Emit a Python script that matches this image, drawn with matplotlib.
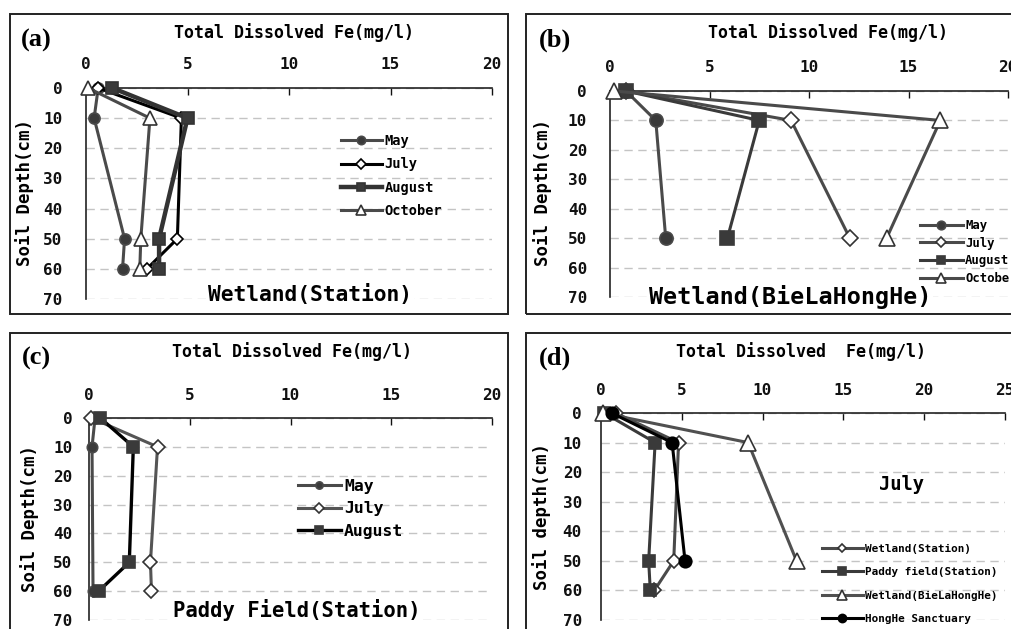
import matplotlib
matplotlib.use('Agg')
import matplotlib.pyplot as plt
from matplotlib.patches import Rectangle

# ---------------- data ----------------
depth_ticks = [0, 10, 20, 30, 40, 50, 60, 70]
fe_ticks_20 = [0, 5, 10, 15, 20]
fe_ticks_25 = [0, 5, 10, 15, 20, 25]

# (a) Wetland (Station)
a_depth = [0, 10, 50, 60]
a_may = [0.6, 0.4, 1.9, 1.8]
a_july = [0.6, 4.7, 4.5, 3.0]
a_august = [1.3, 5.0, 3.6, 3.6]
a_october = [0.1, 3.15, 2.7, 2.65]
a_labels = ["May", "July", "August", "October"]

# (b) Wetland (BieLaHongHe)
b_depth = [0, 10, 50]
b_may = [0.8, 2.3, 2.8]
b_july = [0.8, 9.1, 12.05]
b_august = [0.8, 7.5, 5.9]
b_october = [0.2, 16.6, 13.9]
b_labels = ["May", "July", "August", "October"]

# (c) Paddy Field (Station)
c_depth_may = [0, 10, 60]
c_may = [0.3, 0.15, 0.2]
c_depth = [0, 10, 50, 60]
c_july = [0.12, 3.4, 3.05, 3.1]
c_august = [0.56, 2.2, 2.0, 0.48]
c_labels = ["May", "July", "August"]

# (d) July comparison
d_depth4 = [0, 10, 50, 60]
d_depth3 = [0, 10, 50]
d_wet_station = [0.9, 4.8, 4.5, 3.3]
d_paddy = [0.2, 3.35, 2.95, 3.05]
d_bielahonghe = [0.1, 9.1, 12.1]
d_honghe = [0.65, 4.4, 5.2]
d_labels = ["Wetland(Station)", "Paddy field(Station)", "Wetland(BieLaHongHe)", "HongHe Sanctuary"]

# ---------------- layout ----------------
W, H = 1011, 629
fig = plt.figure(figsize=(W / 100, H / 100), dpi=100)
fig.patch.set_facecolor('white')

MONO = 'DejaVu Sans Mono'
SERIF = 'Liberation Serif'


def fx(px):
    return px / W


def fy(py):
    return 1 - py / H


def box(x0, y0, x1, y1):
    fig.add_artist(Rectangle((fx(x0), fy(y1)), fx(x1 - x0), (y1 - y0) / H,
                             transform=fig.transFigure, fill=False,
                             lw=1.4, ec='#222222'))


def make_ax(x0, x1, ytop, ybot, xmax, xticks, xpad, ypad):
    ax = fig.add_axes([fx(x0), fy(ybot), fx(x1 - x0), (ybot - ytop) / H])
    ax.set_xlim(0, xmax)
    ax.set_ylim(70, 0)
    ax.set_xticks(xticks)
    ax.set_yticks(depth_ticks)
    ax.xaxis.tick_top()
    ax.tick_params(axis='x', direction='in', length=5, width=1, pad=xpad,
                   labelsize=11.5, colors='#111111')
    ax.tick_params(axis='y', length=0, pad=ypad, labelsize=11.5, colors='#111111')
    for lab in ax.get_xticklabels() + ax.get_yticklabels():
        lab.set_fontweight('bold')
        lab.set_fontfamily(MONO)
    for s in ['right', 'bottom']:
        ax.spines[s].set_visible(False)
    for s in ['top', 'left']:
        ax.spines[s].set_color('#222222')
        ax.spines[s].set_linewidth(1.2)
    ax.yaxis.grid(True, color='#c4c4c4', lw=1, linestyle=(0, (6, 4)))
    ax.set_axisbelow(True)
    ax.patch.set_alpha(0)
    return ax


def series(ax, x, y, marker, face, lc, lw=2.2, ms=8, ec=None, label=None, z=3):
    ax.plot(x, y, color=lc, lw=lw, marker=marker, ms=ms, mfc=face,
            mec=ec if ec else lc, mew=1.2, label=label, clip_on=False, zorder=z)


def legend(ax, xpx, ycpx, fs, hl, sp, ms_scale=0.75):
    leg = ax.legend(loc='center left', bbox_to_anchor=(fx(xpx), fy(ycpx)),
                    bbox_transform=fig.transFigure, frameon=False,
                    borderpad=0, borderaxespad=0, handlelength=hl, handletextpad=0.2,
                    labelspacing=sp, markerscale=ms_scale,
                    prop={'family': MONO, 'weight': 'bold', 'size': fs})
    return leg


def subtitle(xpx, ypx, s, size):
    fig.text(fx(xpx), fy(ypx), s, family=MONO, weight='bold', size=size,
             ha='center', va='center',
             bbox=dict(facecolor='white', edgecolor='none', pad=1.5))


DK = '#3a3a3a'
GR = '#4a4a4a'

# panel boxes
box(10, 14, 508, 314)
box(526, 14, 1030, 314)
box(10, 333, 508, 650)
box(526, 333, 1030, 650)

# ---------- (a) ----------
ax = make_ax(86, 492, 88, 299, 20, fe_ticks_20, 11.5, 17)
series(ax, a_may, a_depth, 'o', DK, GR, ms=8, label=a_labels[0])
series(ax, a_july, a_depth, 'D', 'white', '#000000', ms=6.5, label=a_labels[1])
series(ax, a_august, a_depth, 's', DK, '#333333', lw=3.2, ms=8.5, label=a_labels[2])
series(ax, a_october, a_depth, '^', 'white', GR, ms=9.5, ec='#333333', label=a_labels[3])
legend(ax, 341, 176, 9.8, 3.0, 0.68)
fig.text(fx(36), fy(40), '(a)', family=SERIF, weight='bold', size=19, ha='center', va='center')
fig.text(fx(294), fy(33), 'Total Dissolved Fe(mg/l)', family=MONO, weight='bold', size=12, ha='center', va='center')
fig.text(fx(25), fy(193), 'Soil Depth(cm)', family=MONO, weight='bold', size=12.5, ha='center', va='center', rotation=90)
subtitle(310, 295, 'Wetland(Station)', 15.3)

# ---------- (b) ----------
ax = make_ax(610, 1008, 91, 297, 20, fe_ticks_20, 11.5, 16.5)
series(ax, b_may, b_depth, 'o', DK, GR, ms=9.5, label=b_labels[0])
series(ax, b_july, b_depth, 'D', 'white', GR, ms=8, ec='#333333', label=b_labels[1])
series(ax, b_august, b_depth, 's', DK, DK, ms=9.5, label=b_labels[2])
series(ax, b_october, b_depth, '^', 'white', GR, ms=11, ec='#333333', label=b_labels[3])
legend(ax, 920, 252, 8.8, 3.5, 0.38, ms_scale=0.65)
fig.text(fx(555), fy(40), '(b)', family=SERIF, weight='bold', size=19, ha='center', va='center')
fig.text(fx(828), fy(33), 'Total Dissolved Fe(mg/l)', family=MONO, weight='bold', size=12, ha='center', va='center')
fig.text(fx(543), fy(193), 'Soil Depth(cm)', family=MONO, weight='bold', size=12.5, ha='center', va='center', rotation=90)
subtitle(790, 297, 'Wetland(BieLaHongHe)', 16.8)

# ---------- (c) ----------
ax = make_ax(89, 492, 418, 620, 20, fe_ticks_20, 11, 12)
series(ax, c_may, c_depth_may, 'o', DK, GR, ms=7.5, label=c_labels[0])
series(ax, c_july, c_depth, 'D', 'white', '#555555', ms=7, ec='#333333', label=c_labels[1])
series(ax, c_august, c_depth, 's', DK, '#000000', lw=2.4, ms=9, ec=DK, label=c_labels[2])
legend(ax, 298, 509, 11.8, 2.6, 0.45, ms_scale=0.7)
fig.text(fx(36), fy(358), '(c)', family=SERIF, weight='bold', size=19, ha='center', va='center')
fig.text(fx(292), fy(352), 'Total Dissolved Fe(mg/l)', family=MONO, weight='bold', size=12, ha='center', va='center')
fig.text(fx(30), fy(519), 'Soil Depth(cm)', family=MONO, weight='bold', size=12.5, ha='center', va='center', rotation=90)
subtitle(297, 610, 'Paddy Field(Station)', 14.8)

# ---------- (d) ----------
ax = make_ax(601, 1005, 413, 620, 25, fe_ticks_25, 11, 13.7)
series(ax, d_wet_station, d_depth4, 'D', 'white', GR, ms=7, ec='#333333', label=d_labels[0])
series(ax, d_paddy, d_depth4, 's', DK, DK, ms=9, label=d_labels[1])
series(ax, d_bielahonghe, d_depth3, '^', 'white', '#505050', ms=11, ec='#333333', label=d_labels[2])
series(ax, d_honghe, d_depth3, 'o', '#000000', '#000000', ms=9, label=d_labels[3])
legend(ax, 822, 584, 7.9, 3.7, 1.22, ms_scale=0.65)
fig.text(fx(555), fy(358), '(d)', family=SERIF, weight='bold', size=19, ha='center', va='center')
fig.text(fx(801), fy(352), 'Total Dissolved  Fe(mg/l)', family=MONO, weight='bold', size=12, ha='center', va='center')
fig.text(fx(542), fy(516), 'Soil depth(cm)', family=MONO, weight='bold', size=12.5, ha='center', va='center', rotation=90)
fig.text(fx(902), fy(485), 'July', family=MONO, weight='bold', size=13.5, ha='center', va='center')

fig.savefig('out.png', dpi=100, facecolor='white')
